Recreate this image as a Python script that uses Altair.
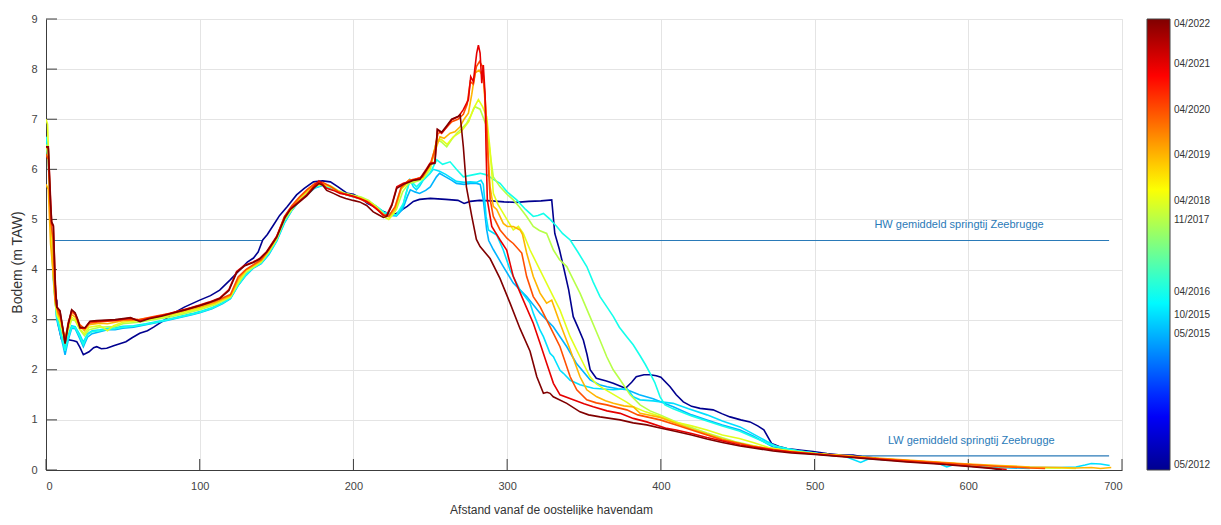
import altair as alt
import pandas as pd

dates = ["05/2012", "05/2015", "10/2015", "04/2016", "11/2017",
         "04/2018", "04/2019", "04/2020", "04/2021", "04/2022"]

p2012 = [(7,3.40),(8,2.90),(10,2.62),(14.5,2.60),(18,2.58),(20,2.56),(22,2.45),(24.3,2.30),(28,2.36),(31,2.44),(33,2.46),(36,2.42),(39.5,2.43),(44,2.48),(48,2.52),(52,2.56),(56,2.64),(61,2.73),(66,2.78),(70,2.85),(76,2.97),(83,3.13),(90,3.25),(95,3.32),(100,3.39),(107,3.48),(113,3.59),(120,3.80),(126,3.99),(131,4.15),(135,4.23),(138,4.35),(141,4.59),(144,4.70),(148,4.89),(152,5.08),(157,5.26),(163,5.49),(168,5.62),(174,5.75),(180,5.77),(185,5.75),(190,5.65),(196,5.52),(200,5.50),(205,5.42),(209,5.32),(214,5.25),(219.5,5.16),(224,5.10),(228,5.12),(232,5.20),(235,5.26),(239,5.36),(243,5.40),(250,5.42),(260,5.40),(268,5.38),(272,5.32),(276,5.36),(282,5.38),(290,5.37),(298,5.35),(306,5.34),(314,5.36),(322,5.37),(329,5.39),(331,4.72),(334,4.40),(336.6,4.06),(340,3.60),(343,3.06),(346,2.85),(349.6,2.59),(352,2.30),(354,2.00),(358,1.83),(364,1.78),(369,1.73),(373,1.68),(377,1.63),(381,1.75),(384,1.86),(389,1.90),(393,1.90),(397,1.88),(400,1.85),(406,1.66),(410,1.50),(414.6,1.36),(420,1.27),(425.5,1.23),(434,1.20),(440,1.12),(445,1.06),(452,1.00),(458,0.96),(463,0.88),(467,0.80),(472,0.53),(477,0.47),(482,0.43),(490,0.40),(499,0.37),(508,0.33),(517,0.30),(525,0.30),(532,0.26),(540,0.24)]

p2015a = [(0,6.60),(1.5,6.30),(3,5.00),(5,3.80),(7,3.00),(9,2.75),(11,2.50),(12.4,2.30),(14.5,2.60),(16.7,2.83),(19,2.82),(22,2.62),(24.3,2.46),(27,2.65),(30,2.72),(35,2.76),(40,2.80),(45,2.80),(50,2.83),(57,2.85),(65,2.90),(75,2.96),(85,3.03),(95,3.10),(100,3.14),(108,3.22),(115,3.32),(120,3.42),(125,3.68),(130,3.88),(135,4.03),(140,4.12),(145,4.30),(150,4.56),(155,4.92),(160,5.18),(165,5.38),(170,5.50),(175,5.63),(180,5.68),(185,5.62),(190,5.55),(195,5.50),(200,5.45),(205,5.42),(210,5.35),(215,5.25),(220,5.12),(224,5.08),(228,5.07),(232,5.20),(235,5.45),(237,5.59),(240,5.55),(243,5.52),(247,5.58),(250,5.65),(254,5.85),(256,5.92),(260,5.85),(264,5.78),(267,5.72),(272,5.70),(276,5.72),(280,5.72),(282.5,5.70),(284.5,5.39),(286.7,4.79),(288,4.58),(291,4.40),(297.5,4.06),(304,3.73),(312.7,3.46),(321.4,3.13),(330,2.86),(338.8,2.46),(345,2.13),(354,1.80),(360,1.70),(365,1.66),(372,1.62),(378,1.60),(386,1.50),(395,1.42),(403,1.32),(408,1.26),(420,1.10),(430,1.00),(440,0.90),(451.5,0.80),(460,0.68),(469,0.53),(473,0.46),(480,0.42),(490,0.37),(500,0.33),(510,0.30),(520,0.28),(540,0.22),(560,0.18),(580,0.13),(600,0.09),(620,0.05),(640,0.03)]

p2015b = [(0,6.50),(1.5,6.20),(3,4.90),(5,3.70),(7,3.05),(9,2.85),(11,2.60),(12.4,2.45),(14.5,2.70),(16.7,2.88),(19,2.86),(22,2.70),(24.3,2.55),(27,2.72),(30,2.78),(35,2.80),(40,2.83),(45,2.84),(50,2.87),(57,2.88),(65,2.92),(75,2.98),(85,3.05),(95,3.12),(100,3.16),(108,3.24),(115,3.34),(120,3.44),(125,3.70),(130,3.90),(135,4.05),(140,4.14),(145,4.33),(150,4.58),(155,4.95),(160,5.20),(165,5.40),(170,5.52),(175,5.65),(180,5.70),(185,5.64),(190,5.56),(195,5.51),(200,5.46),(205,5.43),(210,5.36),(215,5.26),(220,5.13),(224,5.10),(228,5.08),(232,5.25),(234,5.50),(236.8,5.79),(239,5.65),(241,5.59),(243,5.66),(245.5,5.79),(249.8,5.92),(252,6.00),(256,5.96),(260,5.90),(264,5.82),(267,5.76),(272,5.74),(276,5.75),(280,5.74),(283,5.78),(284.5,5.70),(286.3,5.06),(287.8,4.79),(290,4.75),(293.2,4.69),(297.5,4.39),(301.9,3.99),(308.4,3.59),(314.9,3.33),(317,3.13),(321.4,2.79),(323.6,2.66),(327.9,2.33),(330.1,2.26),(334.4,1.99),(336.6,1.93),(341,1.79),(347.4,1.70),(356,1.63),(369,1.60),(378,1.62),(382,1.46),(386.5,1.40),(395,1.38),(400,1.36),(408,1.33),(418,1.22),(430,1.10),(440,0.98),(451.5,0.86),(460,0.72),(469,0.57),(475,0.47),(480,0.44),(490,0.38),(500,0.34),(505,0.31),(510,0.29),(520,0.27),(530,0.15),(535,0.22),(550,0.20),(560,0.18),(580,0.14),(586,0.06),(592,0.12),(600,0.10),(620,0.07),(640,0.05),(660,0.05),(670,0.06),(676,0.10),(680,0.13),(686,0.12),(692,0.09)]

p2016 = [(0,6.65),(1.5,6.40),(3,5.10),(5,3.80),(7,3.05),(9,2.80),(11,2.55),(12.4,2.38),(14.5,2.65),(16.7,2.85),(19,2.84),(22,2.66),(24.3,2.50),(27,2.70),(30,2.76),(35,2.78),(40,2.81),(45,2.82),(50,2.85),(57,2.87),(65,2.91),(75,2.97),(85,3.04),(95,3.11),(100,3.15),(108,3.23),(115,3.33),(120,3.43),(125,3.69),(130,3.89),(135,4.04),(140,4.13),(145,4.32),(150,4.57),(155,4.94),(160,5.19),(165,5.39),(170,5.51),(175,5.64),(180,5.69),(185,5.63),(190,5.56),(195,5.51),(200,5.46),(205,5.43),(210,5.36),(215,5.26),(220,5.14),(224,5.12),(228,5.09),(232.5,5.32),(236.8,5.79),(241,5.65),(245.5,5.79),(249.8,5.92),(254.2,6.19),(258,6.10),(262.9,6.15),(267,6.00),(271.5,5.85),(276,5.88),(282.4,5.92),(286.7,5.89),(291,5.80),(295.4,5.72),(300,5.55),(306.2,5.39),(312,5.20),(317,5.06),(320,5.08),(323.6,5.12),(328,5.00),(332.3,4.86),(336,4.72),(341,4.59),(346,4.35),(351.8,4.06),(356,3.75),(360.4,3.46),(365,3.25),(369.1,3.06),(373,2.85),(377.8,2.66),(382,2.50),(386.5,2.28),(390,2.10),(393,1.93),(396,1.75),(399.5,1.46),(402.7,1.30),(408,1.22),(420,1.08),(430,0.98),(440,0.88),(451,0.78),(460,0.66),(470,0.52),(480,0.44),(490,0.38),(500,0.34),(510,0.30),(520,0.27),(540,0.22),(560,0.18),(580,0.14),(600,0.10),(620,0.06)]

p2017 = [(0,6.50),(1.5,6.20),(3,5.00),(5,3.80),(7,3.10),(9,2.95),(11,2.70),(12.4,2.55),(14.5,2.80),(16.7,3.00),(19,2.98),(22,2.80),(25,2.68),(28,2.80),(35,2.85),(40,2.86),(45,2.86),(50,2.92),(60,2.95),(70,3.00),(80,3.05),(90,3.12),(100,3.20),(110,3.30),(120,3.45),(125,3.72),(130,3.94),(140,4.15),(145,4.35),(150,4.60),(155,4.98),(160,5.20),(165,5.40),(170,5.54),(175,5.67),(180,5.71),(185,5.67),(190,5.58),(195,5.52),(200,5.48),(205,5.45),(210,5.38),(215,5.25),(220,5.10),(224,5.05),(228,5.20),(232,5.55),(236,5.72),(240,5.75),(245,5.80),(250,6.00),(254.2,6.59),(257,6.55),(260.7,6.45),(264,6.60),(267.2,6.72),(270,6.80),(273.7,6.92),(276,7.05),(279,7.25),(282.4,7.20),(286.7,6.85),(289,6.30),(291,5.85),(295.4,5.65),(300,5.50),(304,5.39),(308,5.25),(312.7,5.06),(317,4.86),(321,4.78),(325.7,4.72),(330.1,4.39),(334,4.20),(338.8,4.06),(343,3.80),(347.4,3.53),(353.9,3.06),(360.4,2.59),(364.8,2.26),(369,2.00),(373.5,1.80),(380,1.50),(386.5,1.30),(393,1.18),(399.5,1.10),(410,0.96),(419,0.86),(430,0.74),(438.5,0.66),(448,0.57),(458,0.50),(466,0.45),(473,0.43),(485,0.38),(500,0.33),(520,0.28),(540,0.23),(560,0.19),(580,0.15),(600,0.11),(620,0.07),(640,0.05),(660,0.04)]

p2018 = [(0,7.00),(1,6.90),(2.5,5.50),(4,4.20),(6,3.30),(8,3.05),(9.5,2.95),(11,2.75),(12.4,2.60),(14.5,2.85),(16.7,3.05),(19,3.00),(22,2.82),(25,2.72),(28,2.85),(35,2.88),(38,2.82),(40,2.78),(44,2.88),(50,2.95),(60,2.98),(70,3.02),(80,3.08),(90,3.15),(100,3.22),(110,3.32),(120,3.46),(125,3.75),(130,3.97),(140,4.17),(145,4.37),(150,4.62),(155,5.02),(160,5.22),(165,5.42),(170,5.56),(175,5.68),(180,5.70),(185,5.65),(190,5.56),(195,5.50),(200,5.46),(205,5.43),(210,5.36),(215,5.25),(220,5.05),(223,5.00),(227,5.15),(231,5.60),(236,5.75),(240,5.78),(245,5.82),(250,6.05),(254,6.55),(257,6.60),(261,6.50),(265,6.65),(270,6.75),(275,6.95),(278,7.20),(281.3,7.39),(284,7.25),(286.7,7.05),(288.9,6.39),(291,5.52),(294,5.30),(297.5,5.12),(304,4.79),(307.3,4.86),(310.5,4.72),(314.9,4.39),(321.4,3.99),(327.9,3.59),(334.4,3.19),(341,2.66),(347.4,2.26),(353.9,1.86),(358,1.72),(362.5,1.63),(368,1.53),(373.5,1.43),(378,1.35),(382.1,1.26),(390,1.16),(399.5,1.07),(410,0.95),(420,0.88),(430,0.80),(440,0.70),(451,0.63),(460,0.55),(470,0.45),(480,0.40),(490,0.36),(500,0.33),(520,0.28),(540,0.23),(560,0.19),(580,0.15),(600,0.11),(620,0.08),(640,0.05),(660,0.04),(670,0.03)]

p2019 = [(0,5.70),(1.5,5.60),(3,4.50),(4.5,4.00),(6,3.35),(8,3.10),(9.5,3.00),(11,2.80),(12.4,2.62),(14.5,2.90),(16.7,3.10),(19,3.05),(22,2.88),(25,2.78),(28,2.90),(35,2.93),(40,2.92),(45,2.95),(50,2.98),(60,3.00),(70,3.05),(80,3.10),(90,3.18),(100,3.25),(110,3.34),(120,3.48),(125,3.80),(130,3.99),(140,4.18),(145,4.38),(150,4.64),(155,5.04),(160,5.26),(165,5.44),(170,5.58),(175,5.70),(180,5.72),(185,5.66),(190,5.56),(195,5.50),(200,5.46),(205,5.42),(210,5.35),(215,5.22),(220,5.08),(223,5.05),(227,5.20),(231,5.62),(236,5.78),(240,5.80),(245,5.84),(250,6.08),(253,6.35),(256.3,6.65),(259,6.62),(262.9,6.72),(266,6.75),(269.4,6.85),(272,7.00),(274.8,7.12),(277,7.50),(279.1,7.92),(281.7,7.98),(284.5,7.85),(286.7,6.85),(288.9,5.65),(291,5.26),(293.2,5.20),(297.5,4.92),(300,4.86),(304,4.86),(308.4,4.79),(310,4.70),(312.7,4.33),(317,3.86),(321.4,3.53),(325.7,3.33),(329,3.39),(334.4,2.93),(341,2.40),(347.4,1.86),(351.8,1.60),(358.3,1.46),(364,1.38),(369.1,1.33),(376,1.28),(382.1,1.26),(386.5,1.13),(399.5,1.05),(410,0.93),(420,0.82),(430,0.72),(440,0.62),(451.5,0.53),(460,0.48),(473,0.41),(485,0.37),(500,0.33),(520,0.29),(540,0.24),(560,0.20),(580,0.16),(600,0.12),(620,0.09),(640,0.06),(660,0.05),(670,0.04),(680,0.05),(686,0.03),(693,0.05)]

p2020 = [(0,6.30),(1.5,6.20),(3,5.00),(4.5,4.60),(6,3.40),(8,3.15),(9.5,3.05),(11,2.80),(12.4,2.58),(14.5,2.95),(16.7,3.15),(19,3.10),(22,2.90),(25,2.82),(28,2.93),(35,2.96),(40,2.97),(45,2.98),(50,3.00),(60,3.00),(70,3.06),(80,3.12),(90,3.20),(100,3.28),(110,3.37),(120,3.50),(125,3.85),(130,4.00),(140,4.20),(145,4.40),(150,4.65),(155,5.05),(160,5.28),(165,5.45),(170,5.60),(175,5.72),(180,5.74),(185,5.66),(190,5.56),(195,5.50),(200,5.46),(205,5.40),(210,5.33),(215,5.22),(220,5.08),(223,5.07),(227,5.25),(231,5.64),(236,5.78),(240,5.80),(245,5.85),(250,6.10),(253,6.40),(255,6.72),(258,6.75),(261,6.85),(264,6.95),(268,7.00),(271.5,7.10),(274,7.30),(276,7.75),(278,7.70),(280,8.05),(282,8.15),(284,8.05),(286,7.30),(287.8,6.05),(289,5.39),(291,5.06),(295.4,4.79),(300,4.62),(304,4.52),(309.5,4.33),(312.7,3.86),(317,3.46),(321.4,3.26),(327.9,2.86),(334.4,2.46),(341,1.86),(345.3,1.60),(351.8,1.40),(358,1.34),(364.8,1.30),(371,1.25),(377.8,1.20),(385,1.10),(390.8,1.06),(399.5,1.00),(410,0.90),(420,0.80),(430,0.70),(440,0.60),(451.5,0.53),(460,0.47),(473,0.41),(485,0.36),(500,0.32),(520,0.27),(540,0.23),(560,0.19),(580,0.15),(600,0.11),(620,0.07),(640,0.04),(650,0.03)]

p2021 = [(0,6.45),(1.5,6.42),(3,5.40),(3.7,4.92),(4.8,4.86),(6,3.80),(7,3.26),(9.1,3.16),(11,2.80),(12.4,2.53),(14.5,2.90),(16.7,3.19),(18.9,3.13),(20.5,3.00),(22.1,2.83),(25.4,2.83),(28.6,2.96),(33,2.97),(39.5,2.98),(45,2.99),(50.3,3.01),(55,3.03),(61.2,2.98),(67,3.03),(75,3.08),(82,3.14),(90,3.20),(100,3.29),(106,3.35),(113,3.43),(119,3.60),(124,3.96),(129,4.08),(134.8,4.15),(139,4.22),(143.6,4.36),(150,4.66),(155.5,5.06),(159,5.22),(163,5.32),(169.6,5.49),(174,5.65),(177.6,5.77),(180,5.70),(182.6,5.62),(187,5.58),(191.3,5.52),(195,5.50),(199.8,5.46),(204,5.42),(208.6,5.36),(212,5.28),(216,5.18),(219.5,5.08),(221.7,5.09),(225,5.30),(228.2,5.65),(232.5,5.72),(236,5.75),(239,5.79),(243.3,5.82),(247.7,6.02),(249.8,6.12),(253,6.14),(254.6,6.79),(257.4,6.72),(260.7,6.85),(263.9,6.99),(268.3,7.05),(271.5,7.19),(274.8,7.39),(276.3,7.85),(278,7.75),(280.2,8.32),(281.3,8.48),(282.4,8.32),(283.5,7.72),(284.5,8.08),(285.6,7.52),(286.3,6.39),(287.1,5.39),(290,4.86),(295.4,4.59),(299.7,4.39),(304,3.86),(310.5,3.39),(317,2.93),(321.4,2.53),(325.7,2.13),(330.1,1.73),(334.4,1.50),(343,1.40),(350,1.32),(356,1.26),(365,1.18),(373.5,1.13),(382,1.03),(390.8,0.96),(403.8,0.83),(410,0.80),(420,0.73),(430,0.65),(440,0.58),(451.5,0.50),(460,0.46),(473,0.40),(485,0.36),(500,0.32),(520,0.27),(540,0.22),(560,0.17),(580,0.13),(600,0.08),(615,0.04),(625,0.01)]

p2022 = [(0,6.45),(1.5,6.45),(3,5.30),(3.7,4.95),(4.8,4.88),(6,3.70),(7,3.25),(9.1,3.18),(11,2.82),(12.4,2.52),(14.5,2.92),(16.7,3.20),(18.9,3.14),(20.5,3.02),(22.1,2.85),(25.4,2.84),(28.6,2.97),(33,2.98),(39.5,2.99),(45,3.00),(50.3,3.02),(55,3.04),(61.2,2.96),(67,3.02),(75,3.07),(82,3.13),(90,3.19),(100,3.28),(106,3.34),(113,3.42),(119,3.58),(124,3.94),(129,4.07),(134.8,4.14),(139,4.21),(143.6,4.35),(150,4.64),(155.5,5.04),(159,5.20),(163,5.30),(169.6,5.47),(174,5.62),(177.6,5.72),(180,5.68),(182.6,5.58),(187,5.52),(191.3,5.46),(195,5.42),(199.8,5.38),(204,5.35),(208.6,5.28),(212.9,5.15),(216,5.10),(219.5,5.04),(221.7,5.06),(225,5.28),(228.2,5.62),(232.5,5.70),(236,5.74),(239,5.78),(243.3,5.80),(247.7,6.00),(249.8,6.10),(253,6.12),(254.6,6.80),(257.4,6.74),(260.7,6.87),(263.9,7.00),(268.3,7.06),(269.4,7.09),(271.5,6.45),(273.5,5.65),(277,5.06),(280,4.60),(282.4,4.46),(288.9,4.22),(295.4,3.82),(301.9,3.33),(308.4,2.82),(314.9,2.37),(319.3,1.86),(323.6,1.53),(326,1.55),(327.9,1.53),(330,1.46),(338.8,1.33),(347.4,1.16),(353,1.10),(360.4,1.06),(373.5,1.00),(382,0.94),(390.8,0.90),(399.5,0.84),(410,0.77),(420,0.70),(430,0.62),(440,0.55),(451.5,0.48),(460,0.44),(473,0.38),(485,0.34),(500,0.31),(520,0.26),(540,0.21),(560,0.16),(580,0.12),(600,0.07),(615,0.03),(622,0.00)]

profiles = [p2012, p2015a, p2015b, p2016, p2017, p2018, p2019, p2020, p2021, p2022]

# reference water levels (m TAW) and where each line segment is drawn
level_names = ["HW gemiddeld springtij Zeebrugge", "HW gemiddeld springtij Zeebrugge",
               "LW gemiddeld springtij Zeebrugge"]
level_values = [4.58, 4.58, 0.28]
level_x_start = [4.6, 341, 516]
level_x_end = [141, 691.6, 691.6]
label_names = ["HW gemiddeld springtij Zeebrugge", "LW gemiddeld springtij Zeebrugge"]
label_values = [4.58, 0.28]
label_x = [594, 602]

x_ticks = [0, 100, 200, 300, 400, 500, 600, 700]
y_ticks = [0, 1, 2, 3, 4, 5, 6, 7, 8, 9]

jet = ["#00008f", "#0000ff", "#0080ff", "#00ffff", "#80ff80",
       "#ffff00", "#ff8000", "#ff0000", "#800000"]


def dec_year(d):
    m, y = d.split("/")
    return int(y) + (int(m) - 1) / 12.0


rows = []
for d, prof in zip(dates, profiles):
    t = dec_year(d)
    for i, (x, y) in enumerate(prof):
        rows.append({"date": d, "t": t, "x": x, "y": y, "i": i})
df = pd.DataFrame(rows)

tvals = [dec_year(d) for d in dates]
t0, t1 = tvals[0], tvals[-1]
dom = [t0 + k * (t1 - t0) / 8 for k in range(9)]

expr_parts = [f"abs(datum.value - {t:.5f}) < 0.01 ? '{d}'" for d, t in zip(dates, tvals)]
expr = " : ".join(expr_parts) + " : ''"

W, H = 1076, 451
FONT = "Liberation Sans"
AX = "#3c3c3c"

xscale = alt.Scale(domain=[0, 700], nice=False, zero=False)
yscale = alt.Scale(domain=[0, 9], nice=False, zero=False)

lines = alt.Chart(df).mark_line(strokeWidth=1.6, clip=True).encode(
    x=alt.X("x:Q", scale=xscale,
            axis=alt.Axis(values=x_ticks, grid=True, gridColor="#e4e4e4", gridWidth=1,
                          domainColor=AX, domainWidth=1, ticks=False, tickSize=0,
                          labelFont=FONT, labelFontSize=11, labelColor="#444444",
                          labelPadding=10, title="Afstand vanaf de oostelijke havendam",
                          titleFont=FONT, titleFontSize=12, titleFontWeight="normal",
                          titleColor="#333333", titleX=505, titleY=34)),
    y=alt.Y("y:Q", scale=yscale,
            axis=alt.Axis(values=y_ticks, grid=True, gridColor="#e4e4e4", gridWidth=1,
                          domainColor=AX, domainWidth=1, ticks=False, tickSize=0,
                          labelFont=FONT, labelFontSize=11, labelColor="#444444",
                          labelPadding=9, title="Bodem (m TAW)",
                          titleFont=FONT, titleFontSize=14, titleFontWeight="normal",
                          titleColor="#333333", titleX=-22, titleY=243)),
    color=alt.Color("t:Q",
                    scale=alt.Scale(domain=dom, range=jet, interpolate="rgb"),
                    legend=alt.Legend(orient="none", legendX=1101, legendY=0,
                                      direction="vertical", gradientLength=451,
                                      gradientThickness=23, title=None, values=tvals,
                                      labelExpr=expr, labelFont=FONT, labelFontSize=10,
                                      labelColor="#333333", labelOffset=4,
                                      labelOverlap=False, labelBaseline="middle",
                                      gradientStrokeColor="#444444", gradientStrokeWidth=1)),
    detail="date:N",
    order="i:Q",
)

lev_df = pd.DataFrame({"name": level_names, "v": level_values,
                       "xs": level_x_start, "xe": level_x_end})
levels = alt.Chart(lev_df).mark_rule(color="#2a7ab8", strokeWidth=1.2).encode(
    x=alt.X("xs:Q", scale=xscale), x2="xe:Q",
    y=alt.Y("v:Q", scale=yscale, axis=None))

lab_df = pd.DataFrame({"name": label_names, "v": label_values, "x": label_x})
labels = alt.Chart(lab_df).mark_text(color="#2a7ab8", font=FONT, fontSize=11,
                                     dy=-15, align="center").encode(
    x=alt.X("x:Q", scale=xscale), y=alt.Y("v:Q", scale=yscale, axis=None), text="name:N")

xt = alt.Chart(pd.DataFrame({"v": x_ticks})).mark_rule(color=AX, strokeWidth=1).encode(
    x=alt.X("v:Q", scale=xscale), y=alt.value(H), y2=alt.value(H - 11))
yt = alt.Chart(pd.DataFrame({"v": y_ticks})).mark_rule(color=AX, strokeWidth=1).encode(
    y=alt.Y("v:Q", scale=yscale, axis=None), x=alt.value(0), x2=alt.value(11))

# small tick marks on the colour bar, at the labelled survey dates
cb = alt.Chart(pd.DataFrame({"t": tvals[1:-1]})).mark_rule(color="#333333", strokeWidth=1).encode(
    y=alt.Y("t:Q", scale=alt.Scale(domain=[t0, t1], nice=False, zero=False), axis=None),
    x=alt.value(1101 + 19), x2=alt.value(1101 + 23))

chart = alt.layer(xt, yt, levels, lines, labels, cb).resolve_scale(
    y="independent"
).properties(
    width=W, height=H,
    autosize=alt.AutoSizeParams(type="none"),
    padding={"left": 38, "top": 11, "right": 91, "bottom": 45},
).configure_view(stroke=None).configure(background="white")

chart.save("out.html", embed_options={"renderer": "svg", "actions": False})
